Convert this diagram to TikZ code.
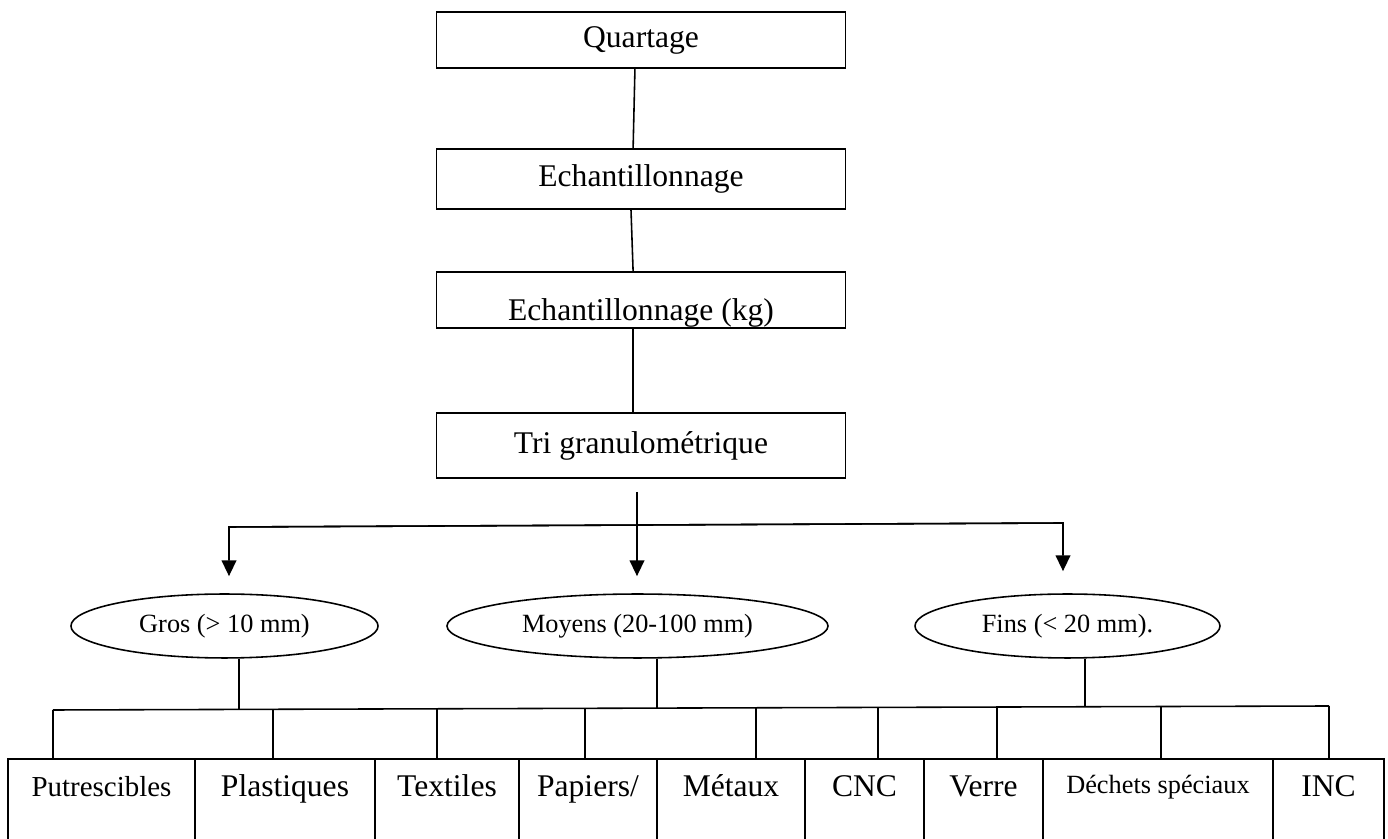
\documentclass[tikz,border=0pt]{standalone}
\usepackage{fontspec}
\setmainfont{Liberation Serif}
\usepackage{tikz}
\usetikzlibrary{shapes.geometric}
\usetikzlibrary{arrows.meta}
\usetikzlibrary{positioning}
\usetikzlibrary{calc}
\newcommand*{\classeX}[4]{%
  \node (#1) [ classe, #2, minimum width = #3 ] {%
    #4
  };
}

\begin{document}
\begin{tikzpicture}[ x=0.38pt, y=-0.38pt,
    every node/.style = {inner sep=0pt, font=\fontsize{12}{14}\selectfont},
    etape/.style  = {draw, line width=0.6pt, minimum width=155.4pt},
    taille/.style = {draw, ellipse, line width=0.6pt, minimum height=24.3pt,
                     font=\fontsize{10}{12}\selectfont},
    classe/.style = {draw, line width=0.6pt, outer sep=0pt,
                     text height=14.4pt, text depth=50pt},
    lien/.style   = {line width=0.6pt},
    fleche/.style = {line width=0.6pt, -{Triangle[length=6pt, width=5.6pt]}},
    node distance = 0pt]

\useasboundingbox (0,0) rectangle (1388,839);
\clip (0,0) rectangle (1388,839);

\node (quartage) [etape, minimum height=21.3pt] at (641,40) {Quartage};
\node (echant)   [etape, minimum height=22.8pt] at (641,179) {Echantillonnage};
\node (echantkg) [etape, text height=18.6pt, text depth=2.7pt] at (641,300) {Echantillonnage (kg)};
\node (tri)      [etape, minimum height=24.7pt] at (641,445.5) {Tri granulométrique};
%
\draw [lien] ([xshift=-2.3pt]quartage.south) -- ([xshift=-3pt]echant.north);
\draw [lien] ([xshift=-3.8pt]echant.south) -- ([xshift=-3pt]echantkg.north);
\draw [lien] ([xshift=-3pt]echantkg.south) -- ([xshift=-3pt]tri.north);
%
\node (gros)   [taille, minimum width=116.7pt] at (224.5,626) {Gros (> 10 mm)};
\node (moyens) [taille, minimum width=144.8pt] at (637.5,626) {Moyens (20-100 mm)};
\node (fins)   [taille, minimum width=115.9pt] at (1067.5,626) {Fins (< 20 mm).};

\coordinate (depart) at (637,492);
\coordinate (coinG) at (229,527);
\coordinate (coinD) at (1063,523);
\draw [fleche] (depart) -- ([yshift=6.5pt]moyens.north -| depart);
\draw [fleche] (coinD) -- (coinG) -- ([yshift=6.5pt]gros.north -| coinG);
\draw [fleche] (coinG) -- (coinD) -- ([yshift=8.4pt]fins.north -| coinD);
%
\classeX{putresc}{anchor=north west, at={(8,759)}, font=\fontsize{11}{13}\selectfont}{71.06pt}{Putrescibles}
\classeX{plast}{right=of putresc}{68.4pt}{Plastiques}
\classeX{textil}{right=of plast}{54.72pt}{Textiles}
\classeX{papiers}{right=of textil}{52.44pt}{Papiers/}
\classeX{metaux}{right=of papiers}{56.24pt}{Métaux}
\classeX{cnc}{right=of metaux}{45.22pt}{CNC}
\classeX{verre}{right=of cnc}{45.22pt}{Verre}
\classeX{dechets}{right=of verre, font=\fontsize{10}{12}\selectfont, text height=13pt, text depth=51.4pt}{87.4pt}{Déchets spéciaux}
\classeX{inc}{right=of dechets}{42.18pt}{INC}
%
\coordinate (busG) at (53,710);
\coordinate (busD) at (1329,706);
\draw [lien] (busG) -- (busD);
\coordinate (chG) at (239,709.4);
\coordinate (chM) at (657,708.1);
\coordinate (chF) at (1085,706.8);
\draw [lien] (chG |- gros.south) -- (chG);
\draw [lien] (chM |- moyens.south) -- (chM);
\draw [lien] (chF |- fins.south) -- (chF);
\foreach \x/\case in {53/putresc, 273/plast, 437/textil, 585/papiers, 756/metaux,
                      878/cnc, 997/verre, 1161/dechets, 1329/inc} {
  \coordinate (b) at ($(busG)!{(\x-53)/1276}!(busD)$);
  \draw [lien] (b) -- (b |- \case.north);
}
\end{tikzpicture}
\end{document}
